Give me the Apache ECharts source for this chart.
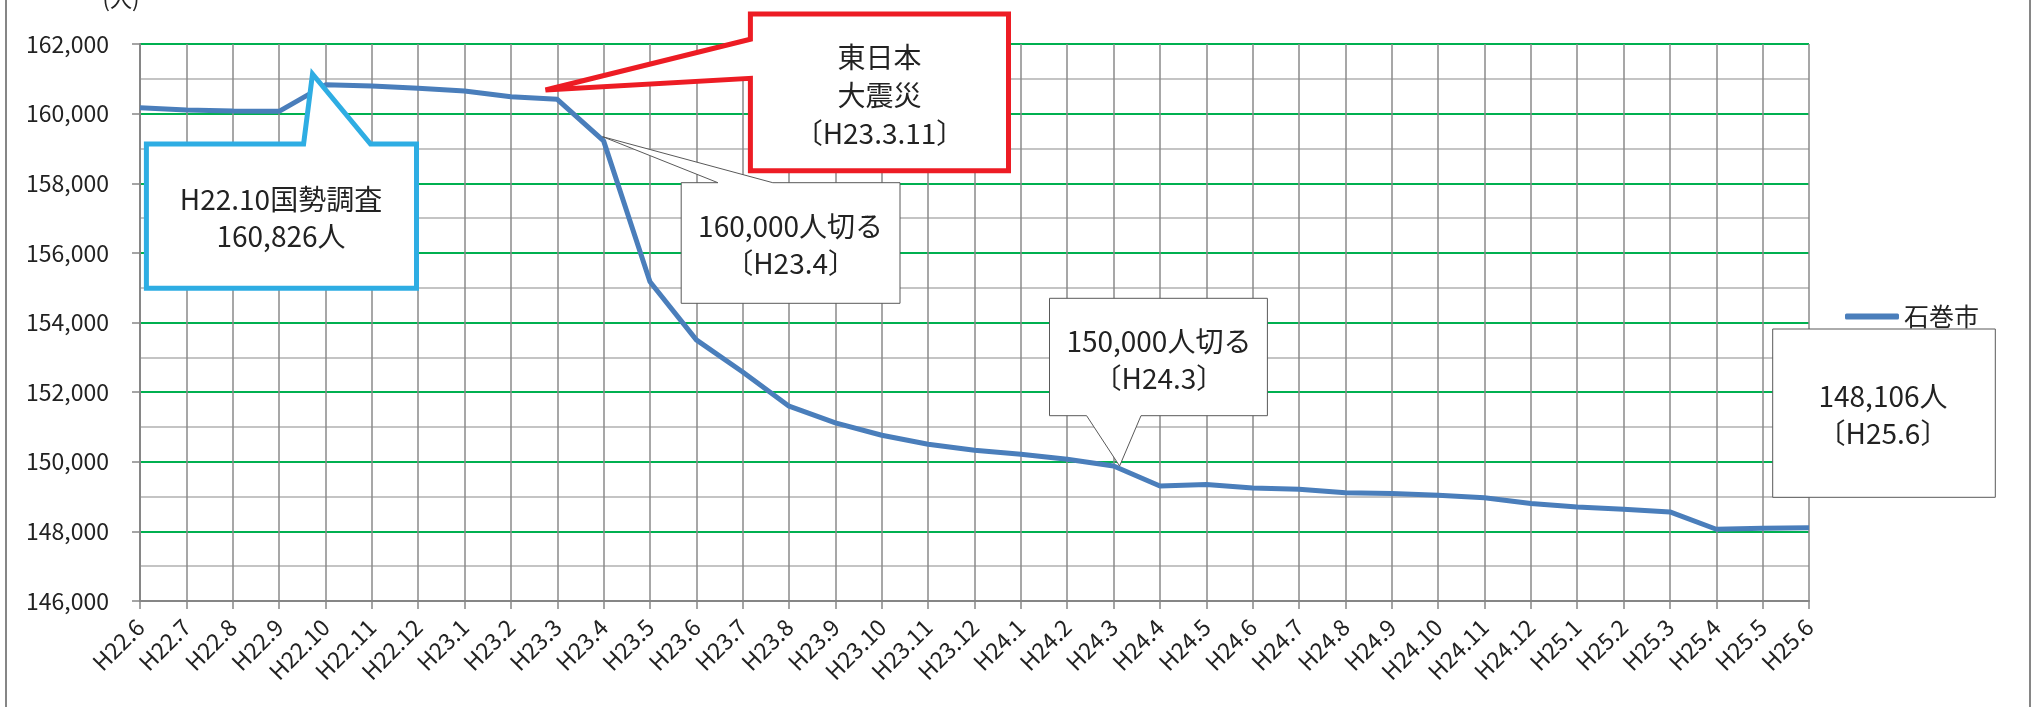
<!DOCTYPE html>
<html>
<head>
<meta charset="utf-8">
<script src="https://cdn.jsdelivr.net/npm/echarts@6/dist/echarts.min.js"></script>
<style>
html,body{margin:0;padding:0;background:#fff;}
#chart{width:2033px;height:707px;}
</style>
</head>
<body>
<div id="chart"></div>
<script>
const categories = ['H22.6','H22.7','H22.8','H22.9','H22.10','H22.11','H22.12','H23.1','H23.2','H23.3','H23.4','H23.5','H23.6','H23.7','H23.8','H23.9','H23.10','H23.11','H23.12','H24.1','H24.2','H24.3','H24.4','H24.5','H24.6','H24.7','H24.8','H24.9','H24.10','H24.11','H24.12','H25.1','H25.2','H25.3','H25.4','H25.5','H25.6'];
const seriesName = '石巻市';
const population = [160169,160103,160074,160065,160826,160793,160726,160649,160485,160410,159217,155170,153500,152580,151596,151116,150762,150504,150331,150216,150072,149880,149305,149345,149248,149210,149110,149085,149037,148965,148800,148702,148635,148558,148061,148089,148106];
const yMin = 146000, yMax = 162000, yStep = 2000;
const unitLabel = '(人)';
const calloutCensus = 'H22.10国勢調査\n160,826人';
const calloutQuake = '東日本\n大震災\n〔H23.3.11〕';
const callout160k = '160,000人切る\n〔H23.4〕';
const callout150k = '150,000人切る\n〔H24.3〕';
const calloutLatest = '148,106人\n〔H25.6〕';

const FONT = "'Noto Sans CJK JP', 'Noto Sans', sans-serif";
const TXT = '#222';
const chart = echarts.init(document.getElementById('chart'), null, {renderer:'canvas'});

function ctext(x, y, t, size, lh){
  return {type:'text', z:60, x:x, y:y, style:{text:t, fill:TXT, font:size+'px '+FONT, textAlign:'center', textVerticalAlign:'middle', lineHeight:lh}};
}

const option = {
  animation:false,
  backgroundColor:'#fff',
  grid:{left:140, right:224, top:44, bottom:106, containLabel:false},
  legend:{
    data:[{name:seriesName, icon:'roundRect'}],
    left:1840, top:299, itemWidth:54, itemHeight:6,
    textStyle:{fontSize:25, fontFamily:FONT, color:TXT}
  },
  xAxis:{
    type:'category', data:categories, boundaryGap:false,
    axisLine:{show:true, lineStyle:{color:'#868686', width:2}},
    axisTick:{show:true, length:8, interval:0, lineStyle:{color:'#868686', width:1.5}},
    axisLabel:{rotate:45, interval:0, fontSize:23, margin:22, color:TXT, fontFamily:FONT},
    splitLine:{show:true, interval:0, lineStyle:{color:'#8a8a8a', width:1.5}}
  },
  yAxis:{
    type:'value', min:yMin, max:yMax, interval:yStep,
    axisLine:{show:true, lineStyle:{color:'#868686', width:2}},
    axisTick:{show:true, length:8, lineStyle:{color:'#868686', width:1.5}},
    axisLabel:{fontSize:23, margin:31, color:TXT, fontFamily:FONT,
      formatter:function(v){return v.toLocaleString('en-US');}},
    splitLine:{show:true, lineStyle:{color:'#00B050', width:2}},
    minorTick:{show:false, splitNumber:2},
    minorSplitLine:{show:true, lineStyle:{color:'#C4C4C4', width:2}}
  },
  series:[{
    name:seriesName, type:'line', data:population, symbol:'none', z:5,
    lineStyle:{color:'#4A7EBB', width:5}, itemStyle:{color:'#4A7EBB'}
  }],
  graphic:[
    {type:'rect', z:1, silent:true, shape:{x:6, y:-10, width:2024, height:730}, style:{fill:'none', stroke:'#868686', lineWidth:2}},
    {type:'text', z:60, x:121, y:-1, style:{text:unitLabel, fill:TXT, font:'22px '+FONT, textAlign:'center', textVerticalAlign:'middle'}},
    {type:'polygon', z:50, shape:{points:[[146.4,144],[303.6,144],[312.5,74],[370.5,144],[416.5,144],[416.5,288.3],[146.4,288.3]]}, style:{fill:'#fff', stroke:'#2EADE3', lineWidth:5}},
    ctext(281, 218.3, calloutCensus, 28, 37),
    {type:'polygon', z:50, shape:{points:[[750.4,14],[1008.5,14],[1008.5,170.7],[750.4,170.7],[750.4,78.3],[545.5,90],[750.4,39.3]]}, style:{fill:'#fff', stroke:'#ED1C24', lineWidth:5}},
    ctext(879.5, 95, calloutQuake, 28, 38),
    {type:'polygon', z:50, shape:{points:[[681.2,182.7],[717.9,182.7],[602.6,136.7],[772.8,182.7],[900,182.7],[900,303.3],[681.2,303.3]]}, style:{fill:'#fff', stroke:'#595959', lineWidth:1}},
    ctext(790.6, 245, callout160k, 28, 37),
    {type:'polygon', z:50, shape:{points:[[1049.5,298.3],[1267.4,298.3],[1267.4,415.7],[1141,415.7],[1119.6,466],[1086.6,415.7],[1049.5,415.7]]}, style:{fill:'#fff', stroke:'#595959', lineWidth:1}},
    ctext(1158.9, 360, callout150k, 28, 37),
    {type:'rect', z:50, shape:{x:1772.7, y:329, width:222.6, height:168.3}, style:{fill:'#fff', stroke:'#595959', lineWidth:1}},
    ctext(1883, 415, calloutLatest, 28, 37)
  ]
};
chart.setOption(option);
</script>
</body>
</html>
